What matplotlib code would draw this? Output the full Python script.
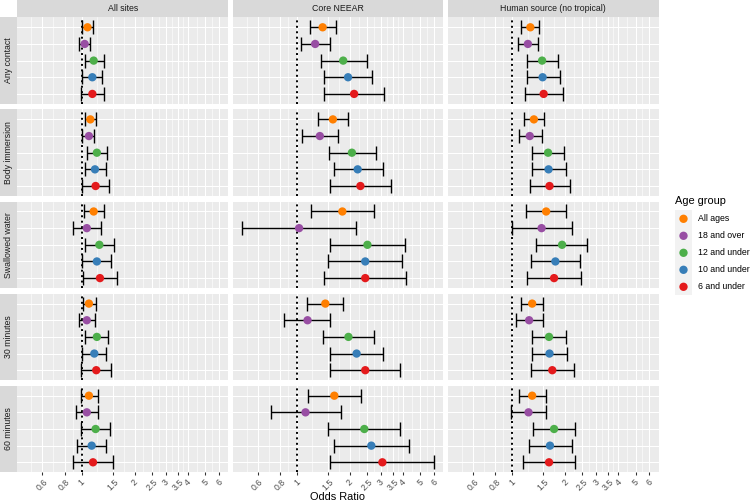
import numpy as np
import matplotlib
matplotlib.use("Agg")
import matplotlib.pyplot as plt
from matplotlib.patches import Rectangle

plt.rcParams['font.family'] = ['Liberation Sans', 'DejaVu Sans']

# ---------------- data ----------------
sites = ["All sites", "Core NEEAR", "Human source (no tropical)"]
exposures = ["Any contact", "Body immersion", "Swallowed water", "30 minutes", "60 minutes"]
age_groups = ["All ages", "18 and over", "12 and under", "10 and under", "6 and under"]
age_colors = ["#FF7F00", "#984EA3", "#4DAF4A", "#377EB8", "#E41A1C"]
x_breaks = [0.6, 0.8, 1, 1.5, 2, 2.5, 3, 3.5, 4, 5, 6]
x_labels = ["0.6", "0.8", "1", "1.5", "2", "2.5", "3", "3.5", "4", "5", "6"]
x_title = "Odds Ratio"
legend_title = "Age group"

# rows = exposures, columns = age groups
or_all = [[1.08, 1.04, 1.17, 1.15, 1.15],
          [1.12, 1.10, 1.22, 1.19, 1.20],
          [1.17, 1.07, 1.26, 1.22, 1.27],
          [1.10, 1.07, 1.22, 1.18, 1.21],
          [1.10, 1.07, 1.20, 1.14, 1.16]]
lo_all = [[1.00, 0.97, 1.04, 1.01, 0.99],
          [1.04, 1.01, 1.07, 1.04, 1.01],
          [1.03, 0.89, 1.05, 1.00, 1.02],
          [1.02, 0.97, 1.05, 1.01, 0.995],
          [0.99, 0.93, 0.995, 0.94, 0.89]]
hi_all = [[1.16, 1.12, 1.33, 1.31, 1.34],
          [1.20, 1.18, 1.39, 1.37, 1.42],
          [1.33, 1.29, 1.52, 1.47, 1.59],
          [1.20, 1.19, 1.41, 1.37, 1.47],
          [1.23, 1.24, 1.45, 1.38, 1.51]]

or_core = [[1.40, 1.27, 1.83, 1.95, 2.11],
           [1.60, 1.35, 2.05, 2.21, 2.29],
           [1.81, 1.03, 2.51, 2.44, 2.44],
           [1.45, 1.15, 1.96, 2.18, 2.44],
           [1.63, 1.12, 2.41, 2.64, 3.05]]
lo_core = [[1.19, 1.05, 1.37, 1.42, 1.43],
           [1.32, 1.07, 1.53, 1.62, 1.54],
           [1.21, 0.49, 1.55, 1.51, 1.42],
           [1.14, 0.85, 1.41, 1.54, 1.55],
           [1.15, 0.71, 1.51, 1.62, 1.55]]
hi_core = [[1.67, 1.55, 2.48, 2.68, 3.11],
           [1.95, 1.72, 2.79, 3.06, 3.43],
           [2.72, 2.16, 4.08, 3.94, 4.16],
           [1.83, 1.54, 2.74, 3.07, 3.82],
           [2.30, 1.77, 3.82, 4.32, 5.97]]

or_human = [[1.27, 1.23, 1.48, 1.49, 1.51],
            [1.33, 1.26, 1.60, 1.61, 1.63],
            [1.56, 1.47, 1.92, 1.76, 1.73],
            [1.30, 1.25, 1.62, 1.63, 1.69],
            [1.30, 1.24, 1.73, 1.64, 1.62]]
lo_human = [[1.13, 1.08, 1.22, 1.21, 1.18],
            [1.17, 1.09, 1.30, 1.29, 1.27],
            [1.20, 1.00, 1.37, 1.28, 1.21],
            [1.13, 1.05, 1.30, 1.30, 1.28],
            [1.10, 0.99, 1.32, 1.24, 1.16]]
hi_human = [[1.43, 1.41, 1.82, 1.86, 1.95],
            [1.51, 1.47, 1.98, 2.01, 2.12],
            [2.03, 2.18, 2.67, 2.42, 2.47],
            [1.50, 1.49, 2.02, 2.06, 2.24],
            [1.56, 1.56, 2.27, 2.18, 2.27]]

odds = [or_all, or_core, or_human]
lows = [lo_all, lo_core, lo_human]
highs = [hi_all, hi_core, hi_human]

# ---------------- layout (pixels) ----------------
W, H = 750, 503
fig = plt.figure(figsize=(W / 100, H / 100), dpi=100)
fig.patch.set_facecolor("white")


def fx(px):
    return px / W


def fy(py):
    return 1 - py / H


col_x0 = [17.3, 232.5, 447.7]
pw = 211.0
row_y0 = [17.3, 109.4, 201.5, 293.6, 385.7]
ph = 86.6
strip_h = 17.3

# shared x limits: log scale with 5% expansion
allv = np.concatenate([np.ravel(a) for a in odds + lows + highs])
la, lb = np.log(allv.min()), np.log(allv.max())
d = 0.05 * (lb - la)
xlim = (np.exp(la - d), np.exp(lb + d))

# minor breaks (midpoints in log space, ggplot style)
lb_ = np.log(x_breaks)
bd = lb_[1] - lb_[0]
ext = list(lb_)
if np.log(xlim[0]) < ext[0]:
    ext = [ext[0] - bd] + ext
if np.log(xlim[1]) > ext[-1]:
    ext = ext + [ext[-1] + bd]
mids = [(ext[i] + ext[i + 1]) / 2 for i in range(len(ext) - 1)]
minor = [np.exp(m) for m in mids if np.log(xlim[0]) <= m <= np.log(xlim[1])]

ypos = np.arange(len(age_groups))[::-1] + 1  # All ages at top

font_small = 6.3
font_big = 7.9

for ci, site in enumerate(sites):
    for ri, expo in enumerate(exposures):
        ax = fig.add_axes([fx(col_x0[ci]), fy(row_y0[ri] + ph), pw / W, ph / H])
        ax.set_facecolor("#EBEBEB")
        for s in ax.spines.values():
            s.set_visible(False)
        ax.set_xscale("log")
        ax.set_xlim(*xlim)
        ax.set_ylim(0.4, len(age_groups) + 0.6)
        ax.set_xticks(x_breaks)
        ax.set_xticks(minor, minor=True)
        ax.set_yticks(ypos)
        ax.set_yticklabels([])
        ax.tick_params(axis="y", length=0)
        ax.tick_params(axis="x", which="minor", length=0, labelbottom=False)
        ax.grid(True, which="major", color="white", linewidth=0.77)
        ax.grid(True, which="minor", axis="x", color="white", linewidth=0.4)
        ax.set_axisbelow(True)
        if ri == len(exposures) - 1:
            ax.set_xticklabels(x_labels, rotation=45, ha="center", va="top",
                               fontsize=font_small, color="#4D4D4D")
            ax.tick_params(axis="x", which="major", length=2.0, width=0.77,
                           color="#333333", pad=1.6)
        else:
            ax.set_xticklabels([])
            ax.tick_params(axis="x", which="major", length=0)

        ax.axvline(1, color="black", linestyle=(0, (1, 1.8)), linewidth=1.4,
                   zorder=1.5)

        o = np.array(odds[ci][ri])
        l = np.array(lows[ci][ri])
        h = np.array(highs[ci][ri])
        ax.errorbar(o, ypos, xerr=[o - l, h - o], fmt="none", ecolor="black",
                    elinewidth=1.0, capsize=4.8, capthick=1.0, zorder=2)
        ax.scatter(o, ypos, s=36, c=age_colors, edgecolors="none", zorder=3)

        # row strips (left)
        if ci == 0:
            fig.patches.append(Rectangle((fx(0), fy(row_y0[ri] + ph)), strip_h / W, ph / H,
                                         transform=fig.transFigure, facecolor="#D9D9D9",
                                         edgecolor="none"))
            fig.text(fx(strip_h / 2), fy(row_y0[ri] + ph / 2), expo, rotation=90,
                     ha="center", va="center", fontsize=font_small, color="#1A1A1A")
    # column strips (top)
    fig.patches.append(Rectangle((fx(col_x0[ci]), fy(strip_h)), pw / W, strip_h / H,
                                 transform=fig.transFigure, facecolor="#D9D9D9",
                                 edgecolor="none"))
    fig.text(fx(col_x0[ci] + pw / 2), fy(strip_h / 2), site, ha="center", va="center",
             fontsize=font_small, color="#1A1A1A")

# axis title
fig.text(fx((col_x0[0] + col_x0[2] + pw) / 2), fy(497.5), x_title, ha="center",
         va="center", fontsize=font_big, color="black")

# legend
lax = fig.add_axes([fx(660), fy(310), 90 / W, 125 / H])
lax.set_xlim(660, 750)
lax.set_ylim(310, 185)
lax.axis("off")
key = 17.0
ky0 = 210.3
lax.add_patch(Rectangle((675, ky0), key, key * len(age_groups), facecolor="#F2F2F2",
                        edgecolor="none"))
for k, (lab, col) in enumerate(zip(age_groups, age_colors)):
    yc = ky0 + key * (k + 0.5)
    lax.scatter([675 + key / 2], [yc], s=36, c=col, edgecolors="none")
    lax.text(697.5, yc, lab, ha="left", va="center", fontsize=font_small, color="black")
lax.text(675, 200.5, legend_title, ha="left", va="center", fontsize=font_big, color="black")

fig.savefig("out.png", dpi=100, facecolor="white")
